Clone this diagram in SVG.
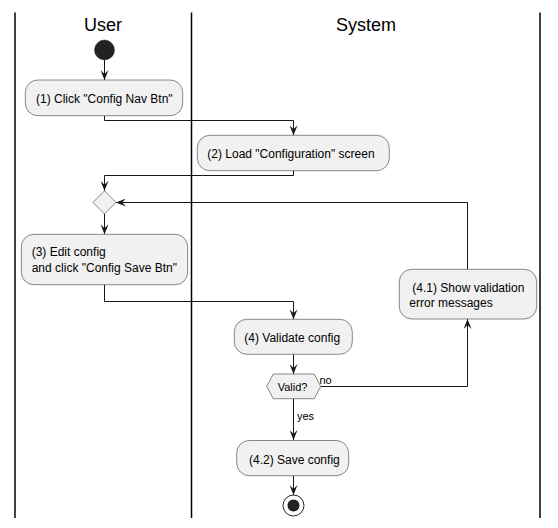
<svg xmlns="http://www.w3.org/2000/svg" width="558" height="528" viewBox="0 0 558 528">
<style>
.lane{stroke:#000;stroke-width:1.5;fill:none}
.title{font-family:"Liberation Sans",Arial,sans-serif;font-size:18px;fill:#000;text-anchor:middle}
.box{fill:#F1F1F1;stroke:#181818;stroke-width:0.5}
.t{font-family:"Liberation Sans",Arial,sans-serif;font-size:12px;fill:#000}
.s{font-family:"Liberation Sans",Arial,sans-serif;font-size:11px;fill:#000}
.c{stroke:#181818;stroke-width:1;fill:none;marker-end:url(#ah)}
</style>
<defs>
<marker id="ah" viewBox="0 0 10 8" refX="10" refY="4" markerWidth="10" markerHeight="8" markerUnits="userSpaceOnUse" orient="auto">
<path d="M0,0 L10,4 L0,8 L4,4 Z" fill="#181818"/>
</marker>
</defs>
<rect width="558" height="528" fill="#fff"/>
<g id="lanes">
<line class="lane" x1="15" y1="12.5" x2="15" y2="518"/>
<line class="lane" x1="191.5" y1="12.5" x2="191.5" y2="518"/>
<line class="lane" x1="540" y1="12.5" x2="540" y2="518"/>
<text class="title" x="103" y="31">User</text>
<text class="title" x="366" y="31">System</text>
</g>
<g id="connectors">
<path class="c" d="M104.5,60 V80"/>
<path class="c" d="M104.5,115.7 V120.5 H293.5 V135.3"/>
<path class="c" d="M293.5,170.7 V175.5 H104.5 V190.7"/>
<path class="c" d="M104.5,214 V234.3"/>
<path class="c" d="M104.5,284.7 V301.5 H293.5 V319.3"/>
<path class="c" d="M293.5,354.3 V374"/>
<path class="c" d="M320.7,386.5 H467.5 V319"/>
<path class="c" d="M467.5,269.3 V202.5 H116"/>
<path class="c" d="M293.5,398.7 V440"/>
<path class="c" d="M293.5,475.7 V495"/>
<text class="s" x="319.5" y="384">no</text>
<text class="s" x="297" y="420">yes</text>
</g>
<g id="start"><circle cx="104.5" cy="50" r="10" fill="#222" stroke="#222" stroke-width="0.5"/></g>
<g id="n1">
<rect class="box" x="25.3" y="80" width="157.4" height="35.7" rx="12.5"/>
<text class="t" x="36" y="102.5">(1) Click "Config Nav Btn"</text>
</g>
<g id="n2">
<rect class="box" x="197.3" y="135.3" width="192" height="35.4" rx="12.5"/>
<text class="t" x="207.3" y="157.5">(2) Load "Configuration" screen</text>
</g>
<g id="merge">
<polygon class="box" points="104.5,190.7 116,202.4 104.5,214 93,202.4"/>
</g>
<g id="n3">
<rect class="box" x="21.3" y="234.3" width="166.4" height="50.4" rx="12.5"/>
<text class="t" x="31.7" y="256">(3) Edit config</text>
<text class="t" x="31.7" y="272">and click "Config Save Btn"</text>
</g>
<g id="n41">
<rect class="box" x="399.3" y="269.3" width="137.4" height="49.7" rx="12.5"/>
<text class="t" x="412.3" y="291.7">(4.1) Show validation</text>
<text class="t" x="409.3" y="306.7">error messages</text>
</g>
<g id="n4">
<rect class="box" x="234.3" y="319.3" width="118" height="35" rx="12.5"/>
<text class="t" x="244.3" y="342.3">(4) Validate config</text>
</g>
<g id="valid">
<polygon class="box" points="266.7,386.4 273.3,374 314.3,374 320.7,386.4 314.3,398.7 273.3,398.7"/>
<text class="s" x="277.7" y="390.5">Valid?</text>
</g>
<g id="n42">
<rect class="box" x="236.7" y="440.5" width="112" height="35.2" rx="12.5"/>
<text class="t" x="249" y="464.3">(4.2) Save config</text>
</g>
<g id="end">
<circle cx="293.5" cy="505.5" r="10.5" fill="none" stroke="#222" stroke-width="1"/>
<circle cx="293.5" cy="505.5" r="6" fill="#222"/>
</g>
</svg>
